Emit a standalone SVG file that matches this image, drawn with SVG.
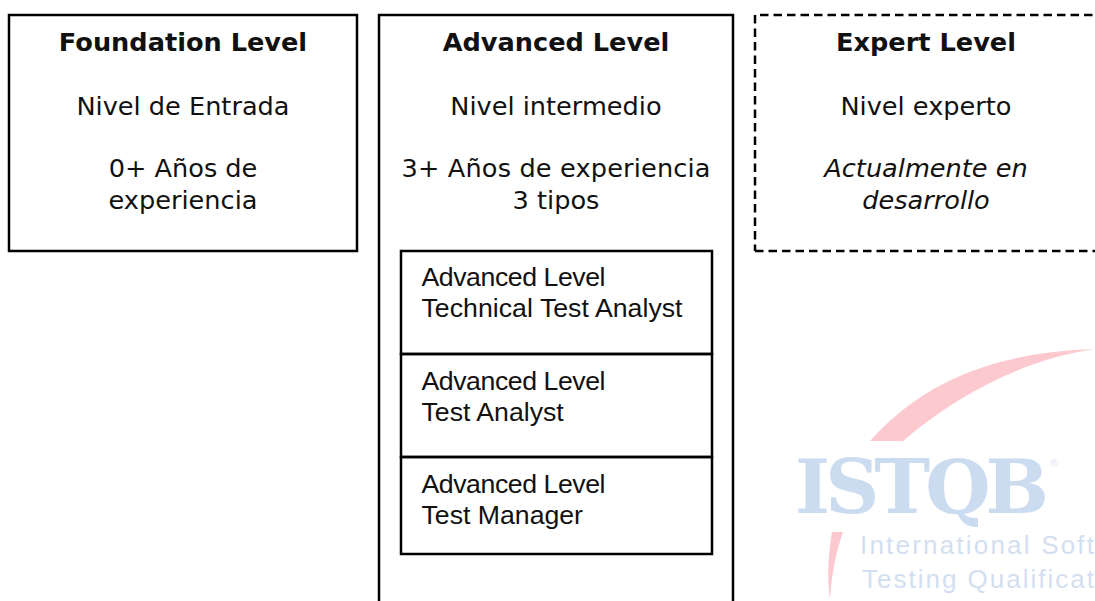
<svg xmlns="http://www.w3.org/2000/svg" width="1095" height="601" viewBox="0 0 1095 601">
<style>
.box{fill:none;stroke:#000;stroke-width:2.5}
.dash{stroke-dasharray:8.5 5}
.t{font-family:"DejaVu Sans",Verdana,sans-serif;font-size:25.6px;fill:#111;text-anchor:middle}
.h{font-weight:700}
.i{font-style:italic}
.a{font-family:"Liberation Sans",Arial,sans-serif;font-size:26.67px;fill:#111}
.wm{font-family:"Liberation Sans",Arial,sans-serif;font-size:26px;fill:#d3dff0}
.logo{font-family:"DejaVu Serif",serif;font-weight:700;font-size:75px;fill:#ccdcf0}
.reg{font-family:"Liberation Sans",Arial,sans-serif;font-size:11px;fill:#dfe8f5}
.pink{fill:#fbc9ce}
</style>
<rect width="1095" height="601" fill="#fff"/>
<g id="watermark">
<path class="pink" d="M870 441C920 385 990 352 1095 349C1030 358 960 392 903 441Z"/>
<path class="pink" d="M832 532L843 532C835 555 831 580 830 600C827 580 828 555 832 532Z"/>
<text class="logo" x="795" y="513" textLength="254" lengthAdjust="spacing">ISTQB</text>
<text class="reg" x="1050" y="467">®</text>
<text class="wm" x="860" y="554" textLength="234" lengthAdjust="spacing">International Soft</text>
<text class="wm" x="862" y="588" textLength="232" lengthAdjust="spacing">Testing Qualificat</text>
</g>
<g id="foundation">
<rect class="box" x="9" y="15" width="348" height="236"/>
<text class="t h" x="183" y="51">Foundation Level</text>
<text class="t" x="183" y="115">Nivel de Entrada</text>
<text class="t" x="183" y="177">0+ Años de</text>
<text class="t" x="183" y="209">experiencia</text>
</g>
<g id="advanced">
<path class="box" d="M379 601V15H733V601"/>
<text class="t h" x="556" y="51">Advanced Level</text>
<text class="t" x="556" y="115">Nivel intermedio</text>
<text class="t" x="556" y="177" textLength="309" lengthAdjust="spacing">3+ Años de experiencia</text>
<text class="t" x="556" y="209">3 tipos</text>
</g>
<g id="technical">
<rect class="box" x="401" y="251" width="311" height="103"/>
<text class="a" x="421.500" y="286" textLength="184" lengthAdjust="spacing">Advanced Level</text>
<text class="a" x="421.500" y="317" textLength="261" lengthAdjust="spacing">Technical Test Analyst</text>
</g>
<g id="analyst">
<rect class="box" x="401" y="354" width="311" height="103"/>
<text class="a" x="421.500" y="390" textLength="184" lengthAdjust="spacing">Advanced Level</text>
<text class="a" x="421.500" y="421">Test Analyst</text>
</g>
<g id="manager">
<rect class="box" x="401" y="457" width="311" height="97"/>
<text class="a" x="421.500" y="493" textLength="184" lengthAdjust="spacing">Advanced Level</text>
<text class="a" x="421.500" y="524">Test Manager</text>
</g>
<g id="expert">
<path class="box dash" d="M755 15V251M760 15H1095M755 251H1095"/>
<text class="t h" x="926" y="51">Expert Level</text>
<text class="t" x="926" y="115">Nivel experto</text>
<text class="t i" x="926" y="177">Actualmente en</text>
<text class="t i" x="926" y="209">desarrollo</text>
</g>
<g id="connectors"></g>
</svg>
